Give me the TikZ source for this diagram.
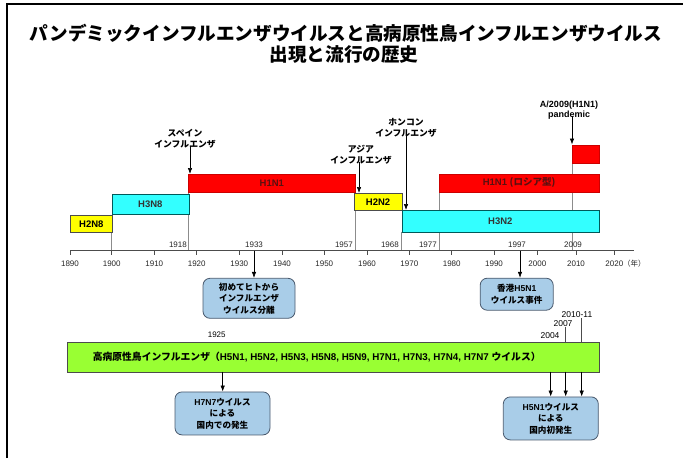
\documentclass[tikz,border=0pt]{standalone}
\usepackage{fontspec}
\setmainfont{Liberation Sans}
\newfontfamily\jp{Noto Sans CJK JP}
\usetikzlibrary{arrows.meta}
\definecolor{barred}{HTML}{FF0000}
\definecolor{baryel}{HTML}{FFFF00}
\definecolor{barcyan}{HTML}{33FFFF}
\definecolor{bargreen}{HTML}{99FF33}
\definecolor{boxblue}{HTML}{A9CDE8}
\definecolor{boxedge}{HTML}{4A5A6E}
\definecolor{redtext}{HTML}{5A1010}
\tikzset{
  yr/.style={font=\fontsize{8}{9}\selectfont, inner sep=0pt, text=black!85},
  jlab/.style={font=\jp\bfseries\fontsize{8.8}{11}\selectfont, align=center, inner sep=0pt},
  period/.style={draw=#1, line width=0.6pt, anchor=north west, inner sep=0pt, font=\bfseries\fontsize{9.5}{11}\selectfont},
  notebox/.style={rounded corners=7pt, fill=boxblue, draw=boxedge, line width=0.8pt, align=center, inner sep=0pt, font=\jp\bfseries\fontsize{8.6}{11.5}\selectfont},
  arr/.style={-{Latex[length=6pt,width=4.5pt]}, line width=0.6pt},
  guide/.style={draw=black!45, line width=0.5pt},
  title/.style={font=\jp\bfseries\fontsize{18.6}{22}\selectfont, inner sep=0pt}
}
\begin{document}
\begin{tikzpicture}[x=1pt,y=-1pt]
\useasboundingbox (0,0) rectangle (685,458);
% frame
\coordinate (f0) at (7,458);
\coordinate (f1) at (7,4);
\coordinate (f2) at (683,4);
\draw[line width=1.2pt] (f0) -- (f1) -- (f2);
% title
\node[title] (t1) at (346,33) {パンデミックインフルエンザウイルスと高病原性鳥インフルエンザウイルス};
\node[title] (t2) at (344,54) {出現と流行の歴史};
% axis
\coordinate (ax0) at (70,250.5);
\coordinate (ax1) at (634,250.5);
% guide lines (behind bars)
\foreach \gx/\gy in {111.7/232, 188.3/192, 355/210, 401.5/231.5, 439/191.5, 572/162.5}{
  \draw[guide] (\gx,\gy) -- (\gx,250.5);
}
\draw[line width=0.6pt, black!70] (ax0) -- (ax1);
\foreach \tx/\ty in {70/1890, 111.7/1900, 154.3/1910, 196.7/1920, 239.3/1930, 282/1940, 324.3/1950, 367/1960, 409.3/1970, 451.7/1980, 494/1990, 537.3/2000, 576/2010, 614.3/2020}{
  \draw[line width=0.6pt, black!70] (\tx,250.5) -- (\tx,254.5);
  \node[yr] (tk\ty) at (\tx,264) {\ty};
}
\node[font=\jp\fontsize{7.5}{9}\selectfont, inner sep=0pt, anchor=west, text=black!85] (nen) at (623,264) {（年）};
% bars
\node[period=black!70, fill=baryel, minimum width=42pt, minimum height=17pt] (h2n8) at (70,215) {H2N8};
\node[period=teal!70!black, fill=barcyan, minimum width=77pt, minimum height=20pt, text=black!80] (h3n8) at (111.5,194) {H3N8};
\node[period=red!80!black, fill=barred, minimum width=167pt, minimum height=18pt, text=redtext] (h1n1a) at (188,174) {H1N1};
\node[period=black!70, fill=baryel, minimum width=47.5pt, minimum height=17pt] (h2n2) at (354,193) {H2N2};
\node[period=teal!70!black, fill=barcyan, minimum width=197pt, minimum height=21.5pt, text=black!80] (h3n2) at (401.5,210) {H3N2};
\node[period=red!80!black, fill=barred, minimum width=159.5pt, minimum height=18pt, text=redtext] (h1n1r) at (439,173.5) {H1N1 {\jp (ロシア型)}};
\node[period=red!80!black, fill=barred, minimum width=26.5pt, minimum height=18pt] (h1n1p) at (572,144.5) {};
% year labels above axis
\node[yr, anchor=east] (y1918) at (187,245) {1918};
\node[yr] (y1933) at (254,245) {1933};
\node[yr, anchor=east] (y1957) at (353,245) {1957};
\node[yr, anchor=east] (y1968) at (399,245) {1968};
\node[yr, anchor=east] (y1977) at (437,245) {1977};
\node[yr] (y1997) at (517,245) {1997};
\node[yr] (y2009) at (573,245) {2009};
% pandemic labels
\node[jlab] (spain) at (185,139) {スペイン\\インフルエンザ};
\node[jlab] (asia) at (361,155) {アジア\\インフルエンザ};
\node[jlab] (hk) at (406,127.5) {ホンコン\\インフルエンザ};
\node[font=\bfseries\fontsize{9}{10}\selectfont, align=center, inner sep=0pt] (pand) at (569,110) {A/2009(H1N1)\\pandemic};
\coordinate (aS) at ([xshift=2pt]h1n1a.north west);
\coordinate (aA) at ([xshift=5pt]h2n2.north west);
\coordinate (aH) at ([xshift=4.5pt]h3n2.north west);
\coordinate (aP) at (h1n1p.north west);
\draw[arr] ([yshift=3pt]aS |- spain.south) -- (aS);
\draw[arr] ([yshift=3pt]aA |- asia.south) -- (aA);
\draw[arr] ([yshift=3pt]aH |- hk.south) -- (aH);
\draw[arr] ([yshift=3pt]aP |- pand.south) -- (aP);
% events below axis
\node[notebox, minimum width=92pt, minimum height=40pt] (b1) at (249,298.3) {初めてヒトから\\インフルエンザ\\ウイルス分離};
\node[notebox, minimum width=73pt, minimum height=32pt] (b2) at (516.7,294.2) {香港{\fontspec{Liberation Sans}\bfseries H5N1}\\ウイルス事件};
\coordinate (e33) at (254,250.5);
\coordinate (e97) at (520,250.5);
\draw[arr] (e33) -- (e33 |- b1.north);
\draw[arr] (e97) -- (e97 |- b2.north);
% avian influenza bar
\node[period=black!70, fill=bargreen, minimum width=531.5pt, minimum height=29.5pt] (green) at (67,342) {};
\node[font=\bfseries\fontsize{9.8}{11}\selectfont, inner sep=0pt] (glab) at (316.7,356.7) {{\jp 高病原性鳥インフルエンザ（}H5N1, H5N2, H5N3, H5N8, H5N9, H7N1, H7N3, H7N4, H7N7 {\jp ウイルス）}};
\node[yr, text=black] (y1925) at (216.7,334.5) {1925};
\node[yr, text=black, font=\fontsize{8.5}{9}\selectfont] (y2004) at (550,336) {2004};
\node[yr, text=black, font=\fontsize{8.5}{9}\selectfont] (y2007) at (563,324) {2007};
\node[yr, text=black, font=\fontsize{8.5}{9}\selectfont] (y2011) at (577,315) {2010-11};
\node[notebox, minimum width=95pt, minimum height=43pt] (b3) at (222.5,413.4) {{\fontspec{Liberation Sans}\bfseries H7N7}ウイルス\\による\\国内での発生};
\node[notebox, minimum width=95pt, minimum height=43pt] (b4) at (550.8,418.4) {{\fontspec{Liberation Sans}\bfseries H5N1}ウイルス\\による\\国内初発生};
\coordinate (g25) at (222.7,371.5);
\coordinate (g04) at (550.7,371.5);
\coordinate (g07) at (565.7,371.5);
\coordinate (g11) at (581.7,371.5);
\draw[arr] (g25) -- (g25 |- b3.north);
\draw[arr] (g04) -- (g04 |- b4.north);
\draw[arr] (g07) -- (g07 |- b4.north);
\draw[arr] (g11) -- (g11 |- b4.north);
\draw[guide, draw=black!70] (g07 |- y2007.south) -- (g07 |- green.north);
\draw[guide, draw=black!70] (g11 |- y2011.south) -- (g11 |- green.north);
\end{tikzpicture}
\end{document}
